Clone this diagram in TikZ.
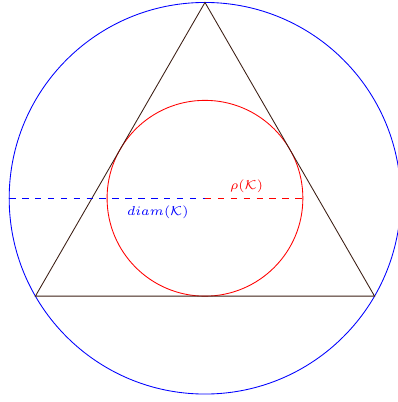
\documentclass[tikz,border=0pt]{standalone}
\usepackage{tikz}
\usetikzlibrary{positioning}
\usepackage{amsmath}
\usepackage{amssymb}
\definecolor{trianglebrown}{RGB}{60,30,20}

\begin{document}
\begin{tikzpicture}[font=\fontsize{6}{7}\selectfont]
    \def\R{3.2}  % circumradius
    \def\r{1.6}  % inradius
    \useasboundingbox (-3.35,-3.33) rectangle (3.14,3.24);
    % Centre and triangle corners
    \coordinate (O) at (0,0);
    \coordinate (A) at (90:\R);
    \coordinate (B) at (210:\R);
    \coordinate (C) at (330:\R);
    \coordinate (W) at (180:\R);
    \coordinate (E) at (0:\r);
    % Circles
    \draw[blue] (O) circle (\R);
    \draw[red] (O) circle (\r);
    % Triangle
    \draw[trianglebrown] (A) -- (B) -- (C) -- cycle;
    % Diameter and radius
    \draw[blue, dashed] (W) -- (O);
    \draw[red, dashed] (O) -- (E);
    \node[blue] (diam) at (-0.77,-0.23) {$diam(\mathcal{K})$};
    \node[red] (rho) at (0.68,0.2) {$\rho(\mathcal{K})$};
\end{tikzpicture}
\end{document}
